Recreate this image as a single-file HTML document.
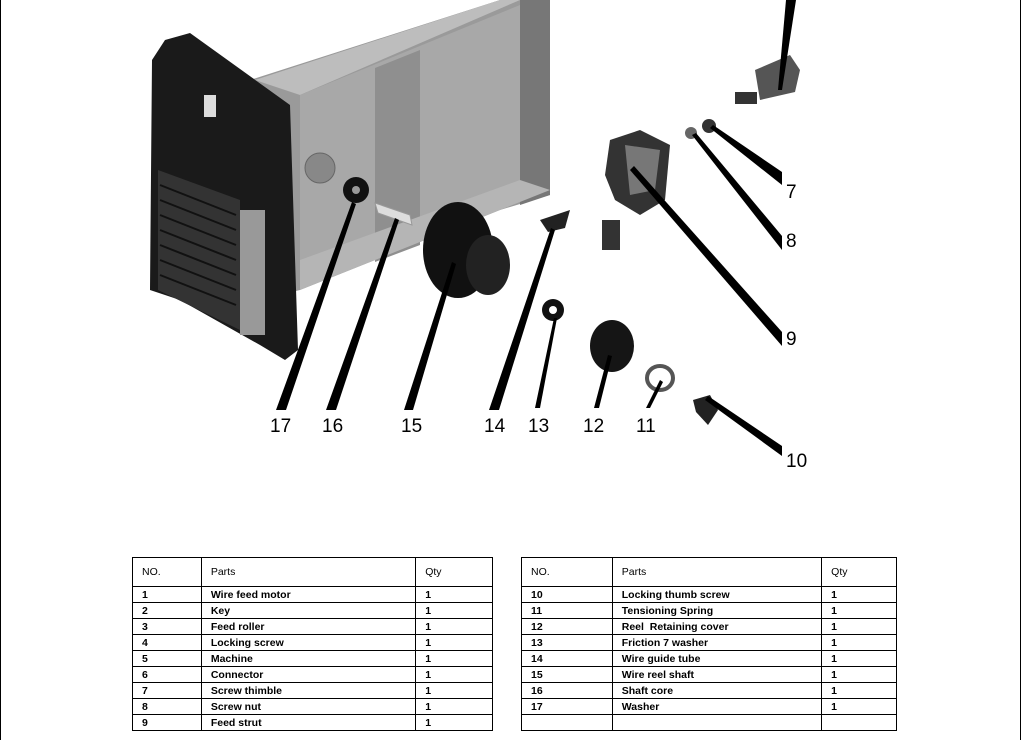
<!DOCTYPE html>
<html><head><style>
body{margin:0;width:1021px;height:740px;background:#fff;position:relative;overflow:hidden;font-family:"Liberation Sans",sans-serif}
.frame{position:absolute;left:0;top:0;width:1019px;height:740px;border-left:1px solid #000;border-right:1px solid #000}
table{position:absolute;border-collapse:collapse;font-size:10.5px;font-weight:bold}
td{border:1.5px solid #000;padding:0 0 0 9px;height:14px;line-height:14px}
tr{height:16px}
tr.h{height:29px}
tr.h td{font-weight:normal;font-size:10.5px}
.lbl{position:absolute;font-size:19px;font-family:"Liberation Sans",sans-serif}
</style></head><body>
<div class="frame"></div>
<svg width="1021" height="500" style="position:absolute;left:0;top:0">
<polygon points="250,80 500,0 550,0 550,195 500,210 300,290 260,300" fill="#9a9a9a"/>
<polygon points="255,80 500,0 520,0 300,95" fill="#bdbdbd"/>
<polygon points="300,95 520,5 520,200 300,285" fill="#a8a8a8"/>
<polygon points="375,68 420,50 420,245 375,262" fill="#8f8f8f"/>
<polygon points="520,0 550,0 550,195 520,205" fill="#777"/>
<polygon points="300,260 520,180 550,190 300,290" fill="#b5b5b5"/>
<path d="M165,40 L190,33 L290,105 L298,350 L285,360 L260,345 L180,300 L150,290 L152,60 Z" fill="#1a1a1a"/>
<polygon points="158,170 240,200 240,330 158,290" fill="#333"/>
<g stroke="#111" stroke-width="2">
<line x1="160" y1="185" x2="236" y2="215"/><line x1="160" y1="200" x2="236" y2="230"/><line x1="160" y1="215" x2="236" y2="245"/><line x1="160" y1="230" x2="236" y2="260"/><line x1="160" y1="245" x2="236" y2="275"/><line x1="160" y1="260" x2="236" y2="290"/><line x1="160" y1="275" x2="236" y2="305"/>
</g>
<rect x="240" y="210" width="25" height="125" fill="#999"/>
<rect x="204" y="95" width="12" height="22" fill="#ddd"/>
<circle cx="320" cy="168" r="15" fill="#888" stroke="#666"/>
<circle cx="356" cy="190" r="13" fill="#111"/><circle cx="356" cy="190" r="4" fill="#999"/>
<polygon points="375,203 410,215 412,225 378,213" fill="#ddd" stroke="#999"/>
<ellipse cx="458" cy="250" rx="35" ry="48" fill="#111"/>
<ellipse cx="488" cy="265" rx="22" ry="30" fill="#222"/>
<polygon points="540,220 570,210 565,228 548,232" fill="#222"/>
<circle cx="553" cy="310" r="11" fill="#111"/><circle cx="553" cy="310" r="4" fill="#fff"/>
<ellipse cx="612" cy="346" rx="22" ry="26" fill="#151515"/>
<ellipse cx="660" cy="378" rx="13" ry="12" fill="none" stroke="#555" stroke-width="4"/>
<polygon points="693,400 710,395 718,410 708,425 696,412" fill="#222"/>
<polygon points="610,140 640,130 670,145 665,200 640,215 615,200 605,175" fill="#333"/>
<polygon points="625,145 660,150 655,190 630,195" fill="#777"/>
<rect x="602" y="220" width="18" height="30" fill="#333"/>
<circle cx="691" cy="133" r="6" fill="#666"/><circle cx="709" cy="126" r="7" fill="#333"/>
<polygon points="755,70 790,55 800,70 795,92 760,100" fill="#555"/>
<rect x="735" y="92" width="22" height="12" fill="#333"/>
<g fill="#000">
<polygon points="352,202 356,204 286,410 276,410"/>
<polygon points="395,218 399,220 336,410 326,410"/>
<polygon points="452,262 456,264 413,410 404,410"/>
<polygon points="551,228 555,230 499,410 489,410"/>
<polygon points="554,318 557,318 540,408 535,408"/>
<polygon points="608,355 612,356 599,408 594,408"/>
<polygon points="660,380 663,382 650,408 646,408"/>
<polygon points="705,400 708,396 782,446 782,456"/>
<polygon points="630,170 634,166 782,332 782,346"/>
<polygon points="692,135 696,133 782,236 782,250"/>
<polygon points="710,128 713,125 782,172 782,185"/>
<polygon points="786,0 796,0 782,90 778,90"/>
</g>
</svg>
<div class="lbl" style="left:270px;top:416px">17</div>
<div class="lbl" style="left:322px;top:416px">16</div>
<div class="lbl" style="left:401px;top:416px">15</div>
<div class="lbl" style="left:484px;top:416px">14</div>
<div class="lbl" style="left:528px;top:416px">13</div>
<div class="lbl" style="left:583px;top:416px">12</div>
<div class="lbl" style="left:636px;top:416px">11</div>
<div class="lbl" style="left:786px;top:451px">10</div>
<div class="lbl" style="left:786px;top:329px">9</div>
<div class="lbl" style="left:786px;top:231px">8</div>
<div class="lbl" style="left:786px;top:182px">7</div>

<table style="left:132px;top:557px;width:361px">
<colgroup><col style="width:69px"><col style="width:215px"><col style="width:77px"></colgroup>
<tr class="h"><td>NO.</td><td>Parts</td><td>Qty</td></tr>
<tr><td>1</td><td>Wire feed motor</td><td>1</td></tr>
<tr><td>2</td><td>Key</td><td>1</td></tr>
<tr><td>3</td><td>Feed roller</td><td>1</td></tr>
<tr><td>4</td><td>Locking screw</td><td>1</td></tr>
<tr><td>5</td><td>Machine</td><td>1</td></tr>
<tr><td>6</td><td>Connector</td><td>1</td></tr>
<tr><td>7</td><td>Screw thimble</td><td>1</td></tr>
<tr><td>8</td><td>Screw nut</td><td>1</td></tr>
<tr><td>9</td><td>Feed strut</td><td>1</td></tr>
</table>
<table style="left:521px;top:557px;width:376px">
<colgroup><col style="width:91px"><col style="width:210px"><col style="width:75px"></colgroup>
<tr class="h"><td>NO.</td><td>Parts</td><td>Qty</td></tr>
<tr><td>10</td><td>Locking thumb screw</td><td>1</td></tr>
<tr><td>11</td><td>Tensioning Spring</td><td>1</td></tr>
<tr><td>12</td><td>Reel&nbsp; Retaining cover</td><td>1</td></tr>
<tr><td>13</td><td>Friction 7 washer</td><td>1</td></tr>
<tr><td>14</td><td>Wire guide tube</td><td>1</td></tr>
<tr><td>15</td><td>Wire reel shaft</td><td>1</td></tr>
<tr><td>16</td><td>Shaft core</td><td>1</td></tr>
<tr><td>17</td><td>Washer</td><td>1</td></tr>
<tr><td>&nbsp;</td><td></td><td></td></tr>
</table>
</body></html>
